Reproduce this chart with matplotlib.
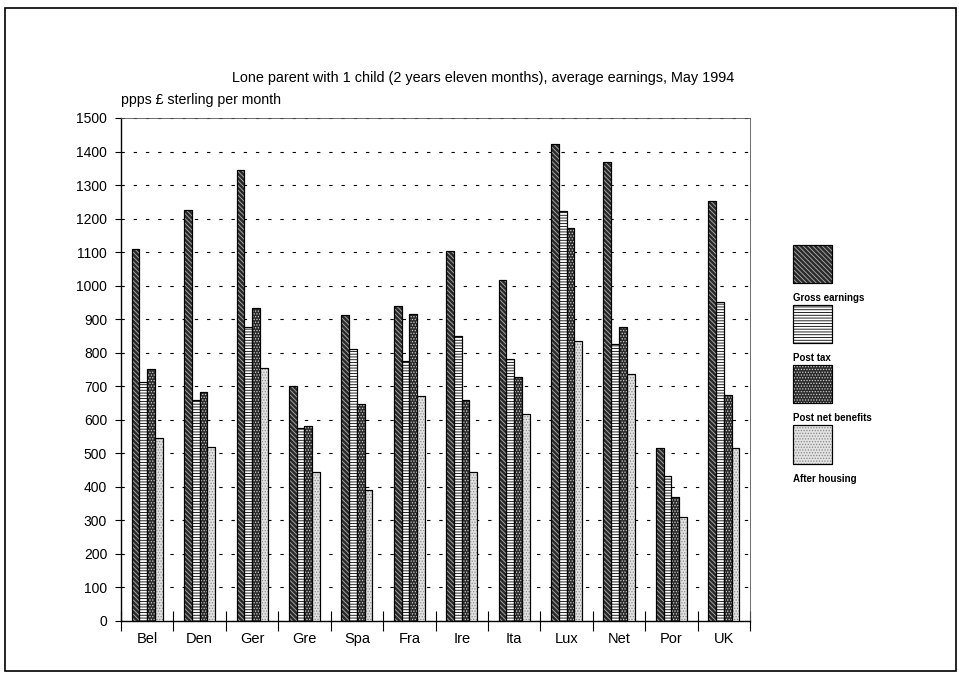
import numpy as np
import matplotlib.pyplot as plt
from matplotlib.patches import Rectangle

plt.rcParams['font.family'] = ['Liberation Sans', 'DejaVu Sans']
plt.rcParams['hatch.linewidth'] = 0.6

countries = ['Bel', 'Den', 'Ger', 'Gre', 'Spa', 'Fra', 'Ire', 'Ita', 'Lux', 'Net', 'Por', 'UK']
gross = [1110, 1225, 1345, 702, 912, 940, 1103, 1017, 1423, 1368, 516, 1252]
post_tax = [714, 658, 878, 575, 810, 775, 851, 780, 1223, 827, 433, 950]
post_benefits = [750, 682, 933, 580, 648, 915, 658, 728, 1173, 877, 370, 673]
after_housing = [545, 519, 755, 443, 391, 670, 445, 616, 834, 737, 311, 515]
series_names = ['Gross earnings', 'Post tax', 'Post net benefits', 'After housing']

# face colour, hatch, hatch colour
styles = [('#2a2a2a', '\\' * 7, '#b0b0b0'),
          ('white', '-' * 6, 'black'),
          ('#2a2a2a', '.' * 6, '#d0d0d0'),
          ('#e2e2e2', '.' * 6, '#8a8a8a')]

fig = plt.figure(figsize=(9.59, 6.73), dpi=100)
ax = fig.add_axes([0.1262, 0.0773, 0.6559, 0.7474])

x = np.arange(len(countries))
w = 0.148
series = [gross, post_tax, post_benefits, after_housing]
for i, vals in enumerate(series):
    face, hatch, hcol = styles[i]
    pos = x + (i - 1.5) * w
    ax.bar(pos, vals, w, color=face, edgecolor='black', linewidth=0.8, zorder=3)
    ax.bar(pos, vals, w, facecolor='none', edgecolor=hcol, hatch=hatch, linewidth=0, zorder=4)
    ax.bar(pos, vals, w, facecolor='none', edgecolor='black', linewidth=0.8, zorder=5)

ax.set_xlim(-0.5, len(countries) - 0.5)
ax.set_ylim(0, 1500)
ax.set_yticks(range(0, 1501, 100))
ax.set_xticks(x)
ax.set_xticklabels(countries, fontsize=10.5)
ax.set_xticks(np.arange(-0.5, len(countries)), minor=True)
ax.tick_params(axis='x', which='major', length=0, pad=8)
ax.tick_params(axis='x', which='minor', direction='inout', length=14, width=0.8)
ax.tick_params(axis='y', direction='out', length=4, width=0.8, labelsize=10, pad=6)
ax.yaxis.grid(True, linestyle=(0, (3, 8)), color='black', linewidth=0.8)
ax.set_axisbelow(True)
for s in ['left', 'bottom']:
    ax.spines[s].set_linewidth(1.0)
for s in ['top', 'right']:
    ax.spines[s].set_linewidth(0.6)
    ax.spines[s].set_color('#555555')

fig.text(0.504, 0.884, 'Lone parent with 1 child (2 years eleven months), average earnings, May 1994',
         ha='center', va='center', fontsize=10.4)
fig.text(0.126, 0.851, 'ppps £ sterling per month', ha='left', va='center', fontsize=10.2)

# legend drawn by hand: patches with labels underneath
lx, lw_, lh = 0.827, 0.041, 0.057
tops = [0.636, 0.547, 0.458, 0.368]
for i, name in enumerate(series_names):
    face, hatch, hcol = styles[i]
    y0 = tops[i] - lh
    fig.patches.append(Rectangle((lx, y0), lw_, lh, transform=fig.transFigure,
                                 facecolor=face, edgecolor='black', linewidth=0.8))
    fig.patches.append(Rectangle((lx, y0), lw_, lh, transform=fig.transFigure,
                                 facecolor='none', edgecolor=hcol, hatch=hatch, linewidth=0))
    fig.patches.append(Rectangle((lx, y0), lw_, lh, transform=fig.transFigure,
                                 facecolor='none', edgecolor='black', linewidth=0.8))
    fig.text(lx, y0 - 0.022, name, ha='left', va='center', fontsize=7, fontweight='bold')

# page frame
fig.patches.append(Rectangle((0.005, 0.003), 0.992, 0.985, transform=fig.transFigure,
                             facecolor='none', edgecolor='black', linewidth=1.2))

fig.savefig('out.png', dpi=100)
